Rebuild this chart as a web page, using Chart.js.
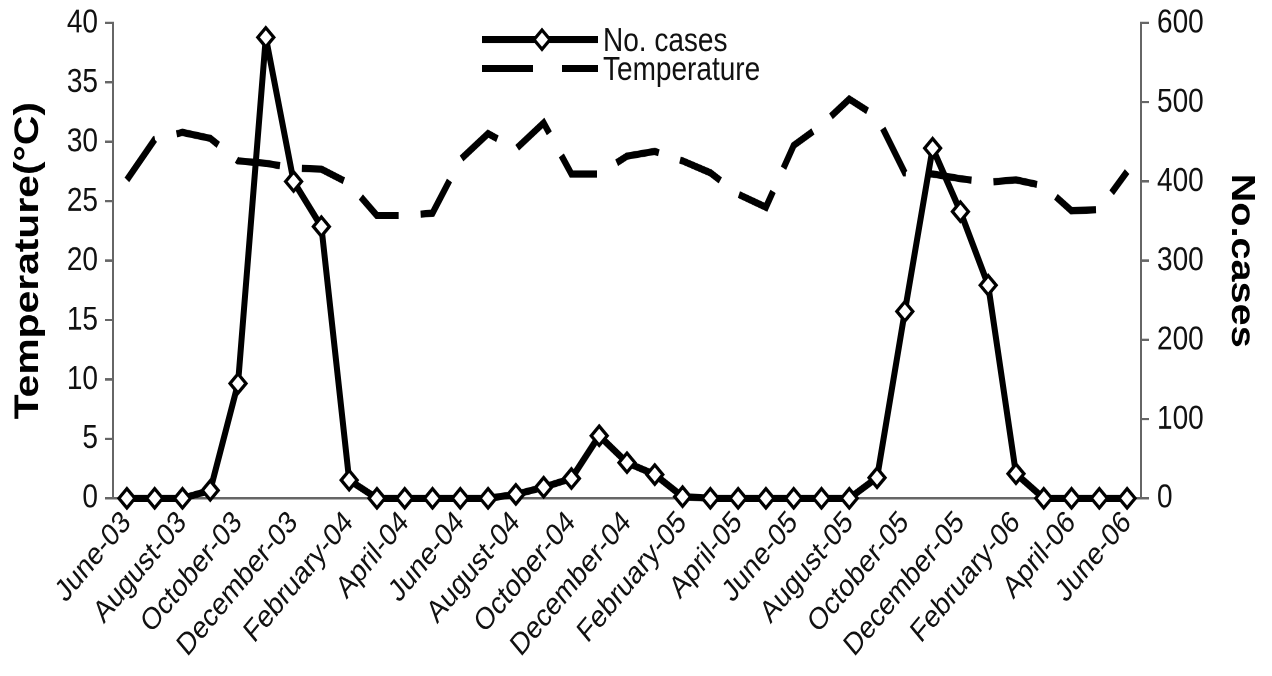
<!DOCTYPE html>
<html>
<head>
<meta charset="utf-8">
<script src="https://cdn.jsdelivr.net/npm/chart.js@4/dist/chart.umd.min.js"></script>
<style>
  html, body { margin: 0; padding: 0; background: #fff; }
  /* the figure is drawn at 1272x563 and shown a little taller, as the scanned original is */
  #chart { display: block; width: 1272px; height: 676px; }
</style>
</head>
<body>
<canvas id="chart" width="1272" height="563" style="width:1272px;height:676px"></canvas>
<script>
// monthly series, June 2003 .. June 2006
const months = [
  'June-03', 'July-03', 'August-03', 'September-03', 'October-03', 'November-03',
  'December-03', 'January-04', 'February-04', 'March-04', 'April-04', 'May-04',
  'June-04', 'July-04', 'August-04', 'September-04', 'October-04', 'November-04',
  'December-04', 'January-05', 'February-05', 'March-05', 'April-05', 'May-05',
  'June-05', 'July-05', 'August-05', 'September-05', 'October-05', 'November-05',
  'December-05', 'January-06', 'February-06', 'March-06', 'April-06', 'May-06',
  'June-06'
];

const cases = [
  0, 0, 0, 10, 145, 582, 400, 343, 23, 0, 0, 0,
  0, 0, 5, 14, 25, 79, 45, 30, 2, 0, 0, 0,
  0, 0, 0, 26, 236, 442, 362, 269, 31, 0, 0, 0,
  0
];

const temperature = [
  26.8, 30.2, 30.8, 30.3, 28.4, 28.2, 27.8, 27.7, 26.5, 23.8, 23.8, 24.0,
  28.5, 30.7, 29.4, 31.6, 27.3, 27.3, 28.8, 29.2, 28.4, 27.4, 25.6, 24.5,
  29.7, 31.4, 33.6, 32.1, 27.4, 27.3, 26.9, 26.6, 26.8, 26.3, 24.2, 24.3,
  27.5
];

const FONT = '"Liberation Sans", Arial, sans-serif';
const axisGrey = '#666';

// key drawn inside the plot, top centre, like the original figure
const seriesKey = {
  id: 'seriesKey',
  afterDraw(chart) {
    const ctx = chart.ctx;
    const x0 = 482, x1 = 598;
    const rows = [
      { ds: chart.data.datasets[0], y: 33 },
      { ds: chart.data.datasets[1], y: 57 }
    ];
    ctx.save();
    rows.forEach(({ ds, y }) => {
      ctx.strokeStyle = ds.borderColor;
      ctx.lineWidth = ds.borderWidth;
      ctx.setLineDash(ds.borderDash ? [51, 29] : []);
      ctx.beginPath();
      ctx.moveTo(x0, y);
      ctx.lineTo(x1, y);
      ctx.stroke();
      ctx.setLineDash([]);
      if (ds.pointRadius) {
        const r = ds.pointRadius;
        const cx = 542;
        ctx.beginPath();
        ctx.moveTo(cx, y - r);
        ctx.lineTo(cx + r, y);
        ctx.lineTo(cx, y + r);
        ctx.lineTo(cx - r, y);
        ctx.closePath();
        ctx.fillStyle = ds.pointBackgroundColor;
        ctx.fill();
        ctx.lineWidth = ds.pointBorderWidth;
        ctx.strokeStyle = ds.pointBorderColor;
        ctx.stroke();
      }
      ctx.fillStyle = '#111';
      ctx.font = '28px ' + FONT;
      ctx.textAlign = 'left';
      ctx.textBaseline = 'middle';
      ctx.fillText(ds.label, 603, y + 2);
    });
    ctx.restore();
  }
};

new Chart(document.getElementById('chart'), {
  type: 'line',
  data: {
    labels: months,
    datasets: [
      {
        label: 'No. cases',
        data: cases,
        yAxisID: 'y1',
        borderColor: '#000',
        borderWidth: 6,
        borderJoinStyle: 'bevel',
        pointStyle: 'rectRot',
        pointRadius: 8,
        pointBackgroundColor: '#fff',
        pointBorderColor: '#000',
        pointBorderWidth: 3,
        tension: 0,
        clip: false
      },
      {
        label: 'Temperature',
        data: temperature,
        yAxisID: 'y',
        borderColor: '#000',
        borderWidth: 6,
        borderDash: [44, 22],
        borderCapStyle: 'butt',
        pointRadius: 0,
        tension: 0,
        clip: false
      }
    ]
  },
  options: {
    responsive: false,
    devicePixelRatio: 2,
    animation: false,
    layout: { padding: { top: 18, left: 0, right: 0, bottom: 0 } },
    plugins: {
      legend: { display: false },
      tooltip: { enabled: false }
    },
    scales: {
      x: {
        offset: true,
        grid: { display: false, drawTicks: false },
        border: { display: true, color: axisGrey, width: 2 },
        ticks: {
          autoSkip: false,
          maxRotation: 45,
          minRotation: 45,
          padding: 5,
          color: '#111',
          font: { family: FONT, size: 26 },
          callback: function (value, index) {
            return index % 2 === 0 ? this.getLabelForValue(value) : '';
          }
        },
        afterFit: (s) => { s.height = 148; }
      },
      y: {
        position: 'left',
        min: 0,
        max: 40,
        grid: { drawOnChartArea: false, drawTicks: true, tickLength: 8, color: axisGrey, lineWidth: 2 },
        border: { display: true, color: axisGrey, width: 2 },
        ticks: {
          stepSize: 5,
          padding: 7,
          color: '#111',
          font: { family: FONT, size: 28, lineHeight: 0.8 }
        },
        title: {
          display: true,
          text: 'Temperature(°C)',
          color: '#000',
          font: { family: FONT, size: 34, weight: 'bold' },
          padding: { top: 8, bottom: 0 }
        },
        afterFit: (s) => { s.width = 113; }
      },
      y1: {
        position: 'right',
        min: 0,
        max: 600,
        grid: { drawOnChartArea: false, drawTicks: true, tickLength: 8, color: axisGrey, lineWidth: 2 },
        border: { display: true, color: axisGrey, width: 2 },
        ticks: {
          stepSize: 100,
          padding: 8,
          color: '#111',
          font: { family: FONT, size: 28, lineHeight: 0.8 }
        },
        title: {
          display: true,
          text: 'No.cases',
          color: '#000',
          font: { family: FONT, size: 33, weight: 'bold' },
          padding: { top: 11, bottom: 0 }
        },
        afterFit: (s) => { s.width = 131; }
      }
    }
  },
  plugins: [seriesKey]
});
</script>
</body>
</html>
